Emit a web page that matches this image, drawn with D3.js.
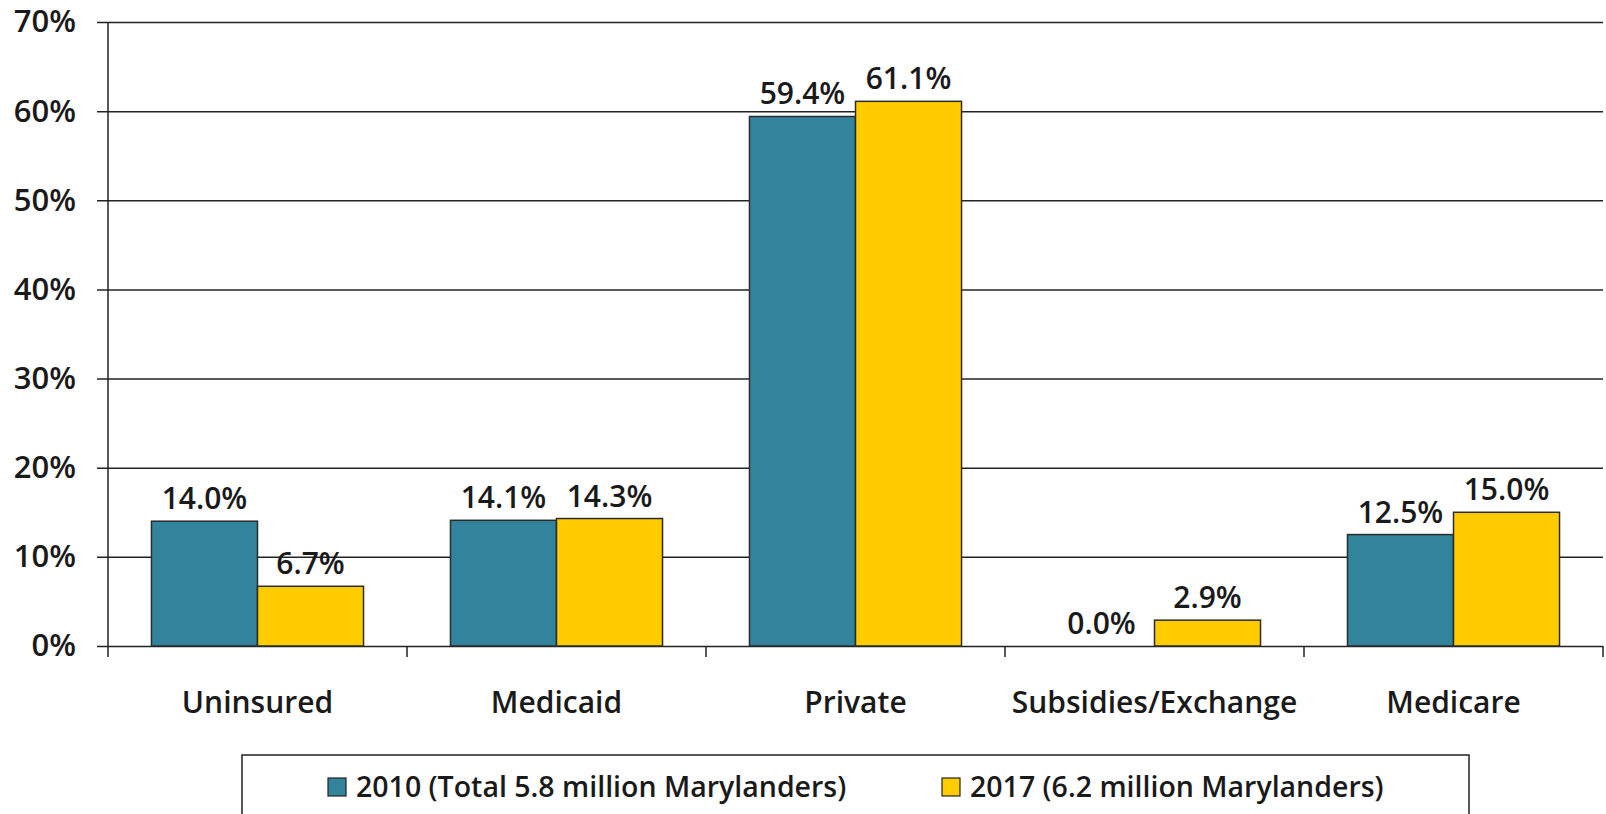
<!DOCTYPE html>
<html lang="en">
<head>
<meta charset="UTF-8">
<title>Maryland coverage 2010 vs 2017</title>
<script src="https://d3js.org/d3.v7.min.js"></script>
<style>
    body { margin: 0; background: #fff; }
    text { font-family: "Open Sans", Lato, sans-serif; fill: #1a1a1a; }
</style>
</head>
<body>
<div id="chart"></div>
<script>
    // data
    const categories = ["Uninsured", "Medicaid", "Private", "Subsidies/Exchange", "Medicare"];
    const values2010 = [14.0, 14.1, 59.4, 0.0, 12.5];
    const values2017 = [6.7, 14.3, 61.1, 2.9, 15.0];
    const seriesNames = ["2010 (Total 5.8 million Marylanders)", "2017 (6.2 million Marylanders)"];
    const yTicks = [0, 10, 20, 30, 40, 50, 60, 70];

    const width = 1606, height = 814;
    const margin = {top: 22, right: 3, bottom: 168, left: 108};
    const colors = ["#31849b", "#ffcc00"];
    const fontSize = 30;

    const svg = d3.select("#chart").append("svg")
        .attr("width", width)
        .attr("height", height);

    const x = d3.scaleBand()
        .domain(categories)
        .range([margin.left, width - margin.right])
        .paddingInner(0)
        .paddingOuter(0);

    const inner = d3.scaleBand()
        .domain([0, 1])
        .range([0, x.bandwidth()])
        .paddingInner(0)
        .paddingOuter(0.41);

    const y = d3.scaleLinear()
        .domain([0, 70])
        .range([height - margin.bottom, margin.top]);

    // gridlines + y axis
    svg.append("g")
        .attr("transform", `translate(${margin.left},0)`)
        .call(d3.axisLeft(y).tickValues(yTicks).tickFormat(d => d + "%")
            .tickSize(-(width - margin.left - margin.right)).tickPadding(32).tickSizeOuter(0))
        .call(g => g.select(".domain").remove())
        .call(g => g.selectAll(".tick line").attr("stroke", "#222").attr("stroke-width", 1.5).attr("x1", -11))
        .call(g => g.selectAll(".tick text").attr("font-size", 31).attr("font-weight", 600)
            .attr("fill", "#1a1a1a").style("font-family", "'Open Sans', sans-serif"));

    svg.append("line")
        .attr("x1", margin.left).attr("x2", margin.left)
        .attr("y1", y(70)).attr("y2", y(0) + 11)
        .attr("stroke", "#222").attr("stroke-width", 1.5);

    // category boundary ticks
    svg.append("g").selectAll("line")
        .data(categories)
        .join("line")
        .attr("x1", d => x(d) + x.bandwidth())
        .attr("x2", d => x(d) + x.bandwidth())
        .attr("y1", y(0)).attr("y2", y(0) + 11)
        .attr("stroke", "#222").attr("stroke-width", 1.5);

    const rows = categories.map((c, i) => ({cat: c, vals: [values2010[i], values2017[i]]}));

    const groups = svg.append("g").selectAll("g")
        .data(rows)
        .join("g")
        .attr("transform", d => `translate(${x(d.cat)},0)`);

    groups.selectAll("rect")
        .data(d => d.vals.map((v, k) => ({v, k})).filter(d => d.v > 0))
        .join("rect")
        .attr("x", d => inner(d.k))
        .attr("width", inner.bandwidth())
        .attr("y", d => y(d.v))
        .attr("height", d => y(0) - y(d.v))
        .attr("fill", d => colors[d.k])
        .attr("stroke", "#2b2b2b")
        .attr("stroke-width", 1.5);

    groups.selectAll("text")
        .data(d => d.vals.map((v, k) => ({v, k})))
        .join("text")
        .attr("x", d => inner(d.k) + inner.bandwidth() / 2)
        .attr("y", d => y(d.v) - 12)
        .attr("text-anchor", "middle")
        .attr("font-size", fontSize)
        .attr("font-weight", 600)
        .text(d => d.v.toFixed(1) + "%");

    // category labels
    svg.append("g").selectAll("text")
        .data(categories)
        .join("text")
        .attr("x", d => x(d) + x.bandwidth() / 2)
        .attr("y", 713)
        .attr("text-anchor", "middle")
        .attr("font-size", fontSize)
        .attr("font-weight", 600)
        .text(d => d);

    // legend
    const legend = svg.append("g");
    legend.append("rect")
        .attr("x", 242).attr("y", 755)
        .attr("width", 1227).attr("height", 80)
        .attr("fill", "#fff")
        .attr("stroke", "#222").attr("stroke-width", 1.5);

    const legendX = [328, 942];
    const items = legend.selectAll("g")
        .data(seriesNames)
        .join("g")
        .attr("transform", (d, i) => `translate(${legendX[i]},787)`);

    items.append("rect")
        .attr("x", 0).attr("y", -9)
        .attr("width", 18).attr("height", 18)
        .attr("fill", (d, i) => colors[i])
        .attr("stroke", "#222").attr("stroke-width", 1.2);

    items.append("text")
        .attr("x", 28).attr("y", 0)
        .attr("dy", "0.35em")
        .attr("font-size", 28.5)
        .attr("font-weight", 600)
        .text(d => d);
</script>
</body>
</html>
